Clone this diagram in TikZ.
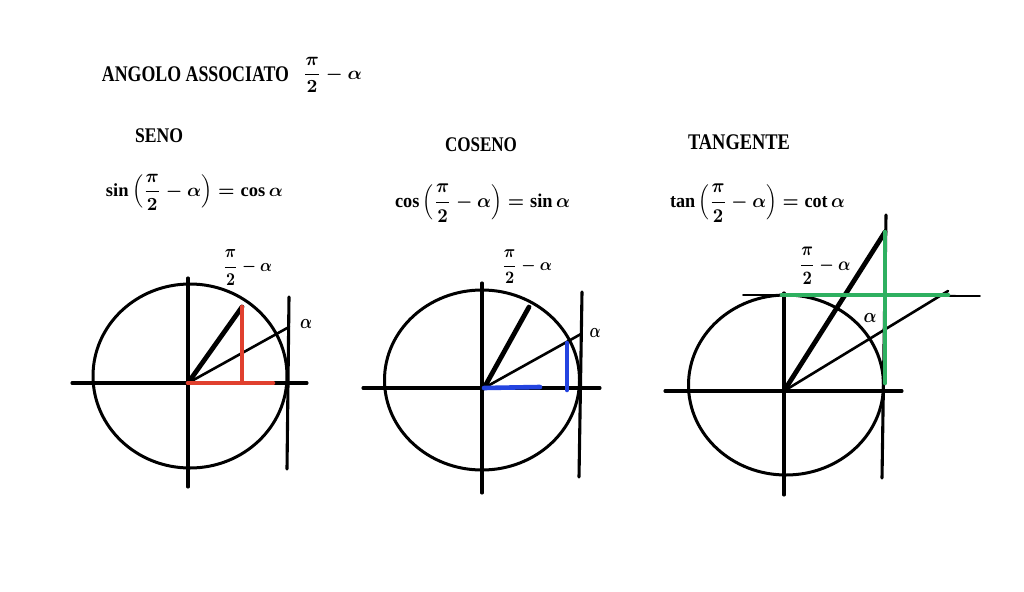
\documentclass[tikz,border=0pt]{standalone}
\usepackage{amsmath}
\usepackage{graphicx}
\usepackage{fontspec}
\setmainfont{Liberation Serif}
\newcommand{\fitto}[3]{\resizebox*{#1pt}{#2pt}{\bfseries\boldmath #3}}
\begin{document}
\begin{tikzpicture}[x=1pt,y=-1pt, line cap=round,
  axis/.style={line width=3.1pt},
  circ/.style={line width=3pt},
  thickray/.style={line width=4.8pt},
  thinray/.style={line width=2.6pt},
  seg/.style={line width=4.6pt},
  lbl/.style={inner sep=0pt},
]
\useasboundingbox (0,0) rectangle (1024,591);
\fill[white] (0,0) rectangle (1024,591);
\definecolor{myred}{HTML}{E0402E}
\definecolor{myblue}{HTML}{2444E0}
\definecolor{mygreen}{HTML}{2EB060}

% titles
\node[lbl] (title) at (195.5,74.5) {\fitto{187}{15}{ANGOLO ASSOCIATO}};
\node[lbl] (titlefrac) at (332.5,75) {\fitto{59}{36}{$\displaystyle\frac{\pi}{2}-\alpha$}};
\node[lbl] (seno) at (159,136) {\fitto{48}{14}{SENO}};
\node[lbl] (eq1) at (194.5,192) {\fitto{177}{36}{$\displaystyle\sin\,\Bigl(\frac{\pi}{2}-\alpha\Bigr)=\cos\alpha$}};
\node[lbl] (coseno) at (481,145) {\fitto{72}{14}{COSENO}};
\node[lbl] (eq2) at (482.5,203) {\fitto{175}{38}{$\displaystyle\cos\,\Bigl(\frac{\pi}{2}-\alpha\Bigr)=\sin\alpha$}};
\node[lbl] (tangente) at (739,142.5) {\fitto{102}{15}{TANGENTE}};
\node[lbl] (eq3) at (757.5,203) {\fitto{175}{38}{$\displaystyle\tan\,\Bigl(\frac{\pi}{2}-\alpha\Bigr)=\cot\alpha$}};

% ---------- circle 1 (seno)
\coordinate (O1) at (188,383);
\coordinate (P1) at (242,307);
\coordinate (A1) at (289,327);
\coordinate (H1) at (273,383);
\coordinate (F1) at (242,382);
\draw[circ] (190,376) ellipse [x radius=97, y radius=92];
\draw[axis] (72,383) -- (307,383);
\draw[axis] (188,278) -- (188,487);
\draw[axis] (289,297) -- (287,469);
\draw[thinray] (O1) -- (A1);
\draw[thickray] (O1) -- (P1);
\draw[seg, myred] (O1) -- (H1);
\draw[seg, myred] (P1) -- (F1);
\node[lbl] (l1) at (247.5,267.5) {\fitto{49}{35}{$\displaystyle\frac{\pi}{2}-\alpha$}};
\node[lbl] (a1) at (306,324) {\fitto{12}{9}{$\alpha$}};

% ---------- circle 2 (coseno)
\coordinate (O2) at (484,388);
\coordinate (P2) at (529,307);
\coordinate (A2) at (581,334);
\coordinate (H2) at (540,387);
\coordinate (V2t) at (567,343);
\coordinate (V2b) at (567,390);
\draw[circ] (482,380) ellipse [x radius=97.5, y radius=90];
\draw[axis] (363,388) -- (600,388);
\draw[axis] (482,283) -- (482,493);
\draw[axis] (582,292) -- (579,477);
\draw[thinray] (O2) -- (A2);
\draw[thickray] (O2) -- (P2);
\draw[seg, myblue] (O2) -- (H2);
\draw[seg, myblue] (V2t) -- (V2b);
\node[lbl] (l2) at (527,266.5) {\fitto{50}{34}{$\displaystyle\frac{\pi}{2}-\alpha$}};
\node[lbl] (a2) at (595,332.5) {\fitto{11}{9}{$\alpha$}};

% ---------- circle 3 (tangente)
\coordinate (O3) at (784,391);
\coordinate (P3) at (885,232);
\coordinate (A3) at (948,291);
\coordinate (T3) at (782,295);
\coordinate (G3) at (948,295);
\coordinate (B3) at (885,383);
\draw[circ] (786,385) ellipse [x radius=97.5, y radius=90];
\draw[axis] (665,391) -- (902,391);
\draw[axis] (784,293) -- (784,495);
\draw[axis] (886,215) -- (882,478);
\draw[line width=1.8pt] (743,295) -- (980,296);
\draw[thinray] (O3) -- (A3);
\draw[thickray] (O3) -- (P3);
\draw[seg, mygreen] (P3) -- (B3);
\draw[seg, mygreen] (T3) -- (G3);
\node[lbl] (l3) at (825,266) {\fitto{51}{37}{$\displaystyle\frac{\pi}{2}-\alpha$}};
\node[lbl] (a3) at (870,317.5) {\fitto{13}{9}{$\alpha$}};
\end{tikzpicture}
\end{document}
